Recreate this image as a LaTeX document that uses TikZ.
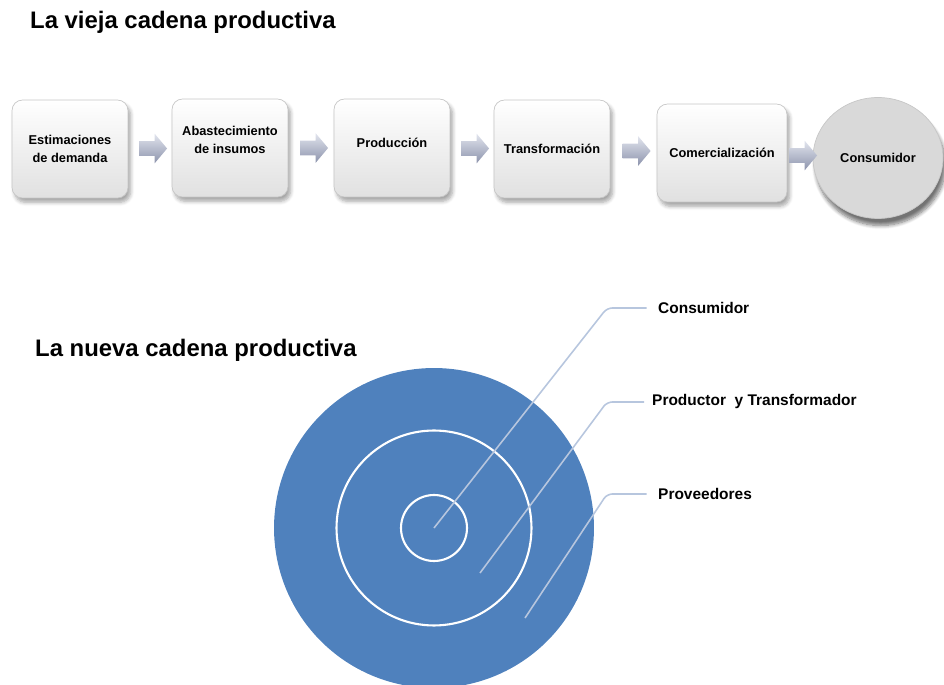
\documentclass[tikz,border=0pt]{standalone}
\usepackage{fontspec}
\setmainfont{Liberation Sans}
\usetikzlibrary{shapes.arrows,shapes.geometric,shadows.blur,calc}

\definecolor{azulanillo}{HTML}{4F81BD}
\definecolor{guiaazul}{HTML}{B7C6DE}
\definecolor{bordecaja}{HTML}{C6C6C6}
\definecolor{flechaclara}{HTML}{E2E5EE}
\definecolor{flechaoscura}{HTML}{8C93AC}

\begin{document}
\begin{tikzpicture}[x=0.02cm,y=-0.02cm,
    titulo/.style={anchor=west, font=\fontsize{13.6}{15}\selectfont\bfseries},
    etapa/.style={rectangle, rounded corners=6pt, draw=bordecaja, top color=white, bottom color=black!12,
      minimum width=2.32cm, minimum height=1.96cm, align=center,
      font=\fontsize{7.3}{10.5}\selectfont\bfseries,
      blur shadow={shadow xshift=1.5pt, shadow yshift=-2.5pt, shadow opacity=35, shadow blur steps=6}},
    flecha/.style={single arrow, minimum height=0.56cm, inner xsep=0pt, inner ysep=0.14cm,
      single arrow head extend=0.15cm, single arrow tip angle=100, draw=none,
      top color=flechaclara, bottom color=flechaoscura},
    rotulo/.style={anchor=west, font=\fontsize{8.8}{10}\selectfont\bfseries},
    guia/.style={draw=guiaazul, line width=0.9pt, rounded corners=3pt}]

  \useasboundingbox (0,0) rectangle (944,685);


  % la cadena de antes
  \node[titulo] (t1) at (24,22) {La vieja cadena productiva};

  \node[etapa] (e1) at (70,149) {Estimaciones\\de demanda};
  \node[etapa, text depth=9pt] (e2) at (230,148) {Abastecimiento\\de insumos};
  \node[etapa, text depth=6pt] (e3) at (392,148) {Producción};
  \node[etapa] (e4) at (552,149) {Transformación};
  \node[etapa, minimum width=2.6cm] (e5) at (722,153) {Comercialización};

  \node[ellipse, minimum width=2.6cm, minimum height=2.42cm, fill=black!15, draw=black!22,
    font=\fontsize{7.3}{9}\selectfont\bfseries,
    blur shadow={shadow xshift=1.5pt, shadow yshift=-4pt, shadow opacity=55, shadow blur steps=8}] (cons) at (878,158) {Consumidor};

  \node[flecha] (f1) at ($(e1.east)!0.5!(e2.west)$) {};
  \node[flecha] (f2) at ($(e2.east)!0.5!(e3.west)$) {};
  \node[flecha] (f3) at ($(e3.east)!0.5!(e4.west)$) {};
  \node[flecha] (f4) at ($(e4.east)!0.5!(e5.west)$) {};
  \node[flecha] (f5) at ($(e5.east)!0.5!(cons.west)$) {};


  % la cadena nueva
  \node[titulo] (t2) at (29,350) {La nueva cadena productiva};

  \fill[azulanillo] (434,528) circle [radius=3.2cm];
  \draw[white, line width=1.2pt] (434,528) circle [radius=1.95cm];
  \draw[white, line width=1.2pt] (434,528) circle [radius=0.66cm];

  \coordinate (p1) at (434,528);
  \coordinate (p2) at (480,573);
  \coordinate (p3) at (525,618);

  \node[rotulo] (r1) at (652,308) {Consumidor};
  \node[rotulo] (r2) at (646,402) {Productor\ \ y Transformador};
  \node[rotulo] (r3) at (652,494) {Proveedores};

  \draw[guia] (p1) -- (607,308) -- ([xshift=-3pt]r1.west);
  \draw[guia] (p2) -- (607,402) -- ([xshift=-1pt]r2.west);
  \draw[guia] (p3) -- (607,494) -- ([xshift=-3pt]r3.west);

\end{tikzpicture}
\end{document}
